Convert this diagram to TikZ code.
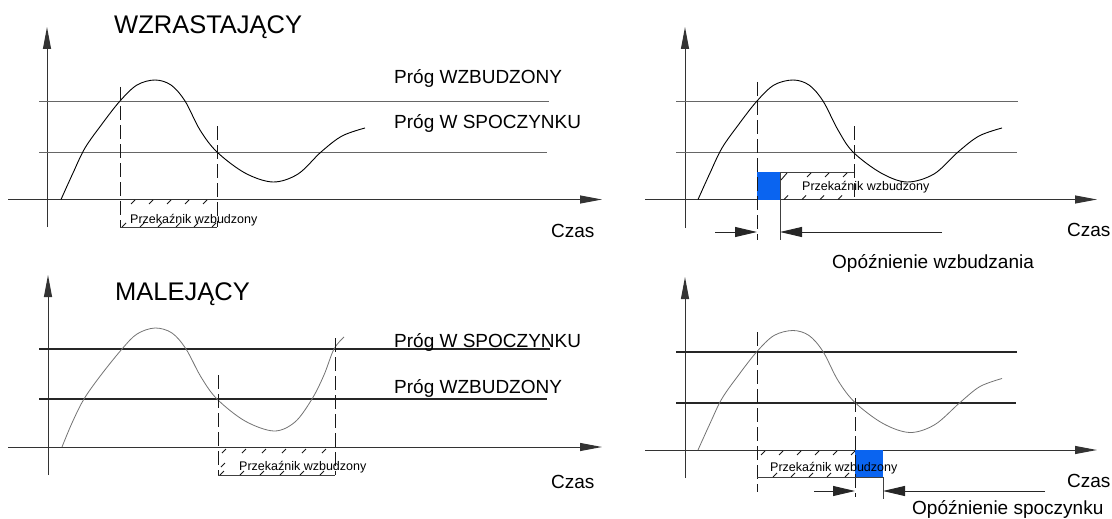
\documentclass[tikz,border=0pt]{standalone}
\usepackage{fontspec}
\setmainfont{Liberation Sans}
\usetikzlibrary{arrows.meta}
\definecolor{relayblue}{RGB}{10,100,240}
\tikzset{
	axisline/.style={line width=1pt, color=black!80, -{Triangle[length=22pt,width=8pt]}},
	level/.style={line width=0.9pt, color=black!60},
	levelbold/.style={line width=1.3pt, color=black!85},
	wave/.style={line width=0.9pt, color=black},
	wavegrey/.style={line width=0.8pt, color=black!55},
	cut/.style={line width=0.9pt, color=black!90, dash pattern=on 14pt off 5pt},
	edge/.style={line width=0.8pt, color=black!75},
	hatchmark/.style={line width=0.9pt, color=black!90},
	dimarrow/.style={line width=0.9pt, color=black!85, -{Triangle[length=22pt,width=10pt]}},
	title/.style={inner sep=0pt, anchor=base west, font=\fontsize{25.5}{30}\selectfont},
	lbl/.style={inner sep=0pt, anchor=base west, font=\fontsize{19}{22}\selectfont},
	small/.style={inner sep=0pt, anchor=base west, font=\fontsize{12.5}{14}\selectfont}
}
\def\hatch(#1,#2){\draw[hatchmark] (#1,#2) -- ++(4,-4);}

\begin{document}
\begin{tikzpicture}[x=1pt,y=-1pt]
		\useasboundingbox (0,0) rectangle (1112,519);
		
		%%%%% WZRASTAJACY %%%%%
		
		\draw[axisline] (47,227) -- (47,27);
		\draw[axisline] (8,199.5) -- (602,199.5);
		\draw[level] (39,101) -- (549,101);
		\draw[level] (39,152) -- (547,152);
		\draw[wave] plot[smooth, tension=0.55] coordinates {(61,199.5) (73,173) (85,148) (102,124) (120,101) (137,85) (155,80) (171,85) (185,101) (200,130) (217,152) (245,173) (273,182) (298,174) (321,152) (342,136) (365,128)};
		
		\draw[cut] (120,87) -- (120,227);
		\draw[cut] (217,126) -- (217,227);
		\draw[edge] (120,227) -- (217,227);
		\foreach \x in {131,149,...,203} \hatch(\x,204);
		\foreach \x in {122,140,...,212} \hatch(\x,227);
		
		\node[title] (uptitle) at (114,34) {WZRASTAJĄCY};
		\node[lbl] (uphigh) at (394,83.5) {Próg WZBUDZONY};
		\node[lbl] (uplow) at (394,128.5) {Próg W SPOCZYNKU};
		\node[small] (uprelay) at (130,223) {Przekaźnik wzbudzony};
		\node[lbl] (uptime) at (551,237) {Czas};
		
		%%%%% WZRASTAJACY, opoznienie %%%%%
		
		\draw[axisline] (685,228) -- (685,27);
		\draw[axisline] (645,199.5) -- (1097,199.5);
		\draw[level] (676,101) -- (1018,101);
		\draw[level] (676,152) -- (1017,152);
		\draw[wave] plot[smooth, tension=0.55] coordinates {(698,199.5) (710,173) (722,148) (739,124) (757,101) (774,85) (793,80) (809,85) (823,101) (838,130) (853,152) (881,173) (907,182) (934,174) (958,152) (979,136) (1002,128)};
		
		\fill[relayblue] (757,172) rectangle (780,199.5);
		\draw[cut] (757,82) -- (757,240);
		\draw[cut] (854,126) -- (854,200);
		\draw[edge] (780,172) -- (854,172);
		\draw[edge] (780,172) -- (780,240);
		\draw[hatchmark] (781,180) -- (787,173);
		\foreach \x in {807,825,843} \hatch(\x,177);
		\foreach \x in {784,802,820,838} \hatch(\x,199.5);
		
		\draw[dimarrow] (715,232) -- (757,232);
		\draw[dimarrow] (942,232) -- (780,232);
		
		\node[small] (uprelayd) at (802,190) {Przekaźnik wzbudzony};
		\node[lbl] (uptimed) at (1067,236) {Czas};
		\node[lbl] (updelay) at (832,268) {Opóźnienie wzbudzania};
		
		%%%%% MALEJACY %%%%%
		
		\draw[axisline] (48,475) -- (48,275);
		\draw[axisline] (8,447) -- (602,447);
		\draw[levelbold] (39,349) -- (550,349);
		\draw[levelbold] (39,399) -- (547,399);
		\draw[wavegrey] plot[smooth, tension=0.55] coordinates {(62,447) (72,423) (84,399) (101,375) (122,349) (137,334) (155,328) (172,333) (186,349) (201,377) (217,399) (245,421) (274,431) (295,422) (312,399) (324,375) (334,349) (344,337)};
		
		\draw[cut] (218,375) -- (218,475);
		\draw[cut] (335,338) -- (335,475);
		\draw[edge] (218,475) -- (335,475);
		\foreach \x in {222,242,...,322} \hatch(\x,453);
		\foreach \x in {220,240,...,320} \hatch(\x,475);
		\hatch(221,467);
		
		\node[title] (downtitle) at (115,300) {MALEJĄCY};
		\node[lbl] (downhigh) at (394,347) {Próg W SPOCZYNKU};
		\node[lbl] (downlow) at (394,393) {Próg WZBUDZONY};
		\node[small] (downrelay) at (239,470) {Przekaźnik wzbudzony};
		\node[lbl] (downtime) at (551,488) {Czas};
		
		%%%%% MALEJACY, opoznienie %%%%%
		
		\draw[axisline] (685,478) -- (685,277);
		\draw[axisline] (645,450) -- (1097,450);
		\draw[levelbold] (676,352) -- (1017,352);
		\draw[levelbold] (676,403) -- (1016,403);
		\draw[wavegrey] plot[smooth, tension=0.55] coordinates {(698,450) (710,423.5) (722,398.5) (739,374.5) (757,351.5) (774,335.5) (793,330.5) (809,335.5) (823,351.5) (838,380.5) (855,402.5) (883,423.5) (910,432.5) (935,424.5) (960,402.5) (980,386.5) (1002,378.5)};
		
		\fill[relayblue] (855,450) rectangle (883,477);
		\draw[cut] (757,332) -- (757,492);
		\draw[cut] (855,398) -- (855,497);
		\draw[edge] (757,477) -- (883,477);
		\draw[edge] (883,477) -- (883,499);
		\foreach \x in {761,779,...,851} \hatch(\x,455);
		\foreach \x in {773,791,...,845} \hatch(\x,477);
		
		\draw[dimarrow] (814,491) -- (855,491);
		\draw[dimarrow] (1045,491) -- (883,491);
		
		\node[small] (downrelayd) at (770,471) {Przekaźnik wzbudzony};
		\node[lbl] (downtimed) at (1067,487) {Czas};
		\node[lbl] (downdelay) at (912,514.5) {Opóźnienie spoczynku};
		
		%%%%% END %%%%%
	\end{tikzpicture}
\end{document}
